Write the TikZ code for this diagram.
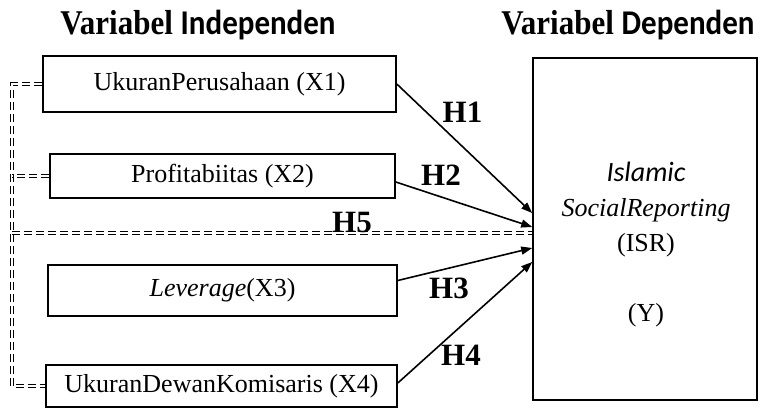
\documentclass[tikz,border=0pt]{standalone}
\usepackage{fontspec}
\setmainfont{Liberation Serif}
\newfontfamily\calfont{Carlito}
\usepackage{tikz}
\usetikzlibrary{arrows.meta, positioning}

\begin{document}
\begin{tikzpicture}[
    x=1pt, y=1pt,
    varbox/.style={draw, line width=1.6pt, inner sep=0pt,
                   font=\fontsize{26}{30}\selectfont},
    heading/.style={font=\fontsize{31}{34}\selectfont\bfseries, anchor=base,
                    yscale=1.12, transform shape},
    hyp/.style={font=\fontsize{31}{32}\selectfont\bfseries},
    rail/.style={double, double distance=2.4pt, line width=0.7pt,
                 dash pattern=on 8pt off 4pt},
    arr/.style={-{Triangle[length=11pt, width=8pt]}, line width=1.6pt}
  ]
  \useasboundingbox (0,0) rectangle (765,408);

  % headings
  \node[heading] (hind) at (198,373) {Variabel {\calfont Independen}};
  \node[heading] (hdep) at (628,373) {Variabel {\calfont Dependen}};

  % nodes
  \node[varbox, minimum width=353pt, minimum height=56pt] (x1) at (219.5,324) {UkuranPerusahaan (X1)};
  \node[varbox, minimum width=345pt, minimum height=44pt] (x2) at (222.5,232) {Profitabiitas (X2)};
  \node[varbox, minimum width=349pt, minimum height=51pt] (x3) at (222.5,117.5) {\textit{Leverage}(X3)};
  \node[varbox, minimum width=351pt, minimum height=42pt] (x4) at (221.5,22) {UkuranDewanKomisaris (X4)};
  \node[varbox, minimum width=224pt, minimum height=342pt] (isr) at (645,179) {};
  \node[align=center, font=\fontsize{26}{35}\selectfont] (isrtxt) at (646,163)
    {{\calfont\itshape\fontsize{28}{35}\selectfont Islamic}\\ \textit{SocialReporting}\\ (ISR)\\[35pt] (Y)};

  % dashed rail on the left
  \coordinate (rl) at (12,175);
  \draw[rail] (x1.west) -- (x1.west -| rl) -- (x4.west -| rl) -- (x4.west);
  \draw[rail] (x2.west) -- (x2.west -| rl);
  \draw[rail] (x3.west) -- (x3.west -| rl);
  \draw[rail] (rl) -- (rl -| isr.west);

  % arcs
  \draw[arr] (x1.east) -- ([yshift=16pt]isr.west);
  \draw[arr] ([yshift=-6pt]x2.east) -- ([yshift=2pt]isr.west);
  \draw[arr] ([yshift=10pt]x3.east) -- ([yshift=-19pt]isr.west);
  \draw[arr] ([yshift=3pt]x4.east) -- ([yshift=-33pt]isr.west);

  % hypotheses
  \node[hyp] (h1) at (462.5,295.5) {H1};
  \node[hyp] (h2) at (441,233) {H2};
  \node[hyp] (h3) at (449,120) {H3};
  \node[hyp] (h4) at (461,53) {H4};
  \node[hyp] (h5) at (352,186) {H5};
\end{tikzpicture}
\end{document}
